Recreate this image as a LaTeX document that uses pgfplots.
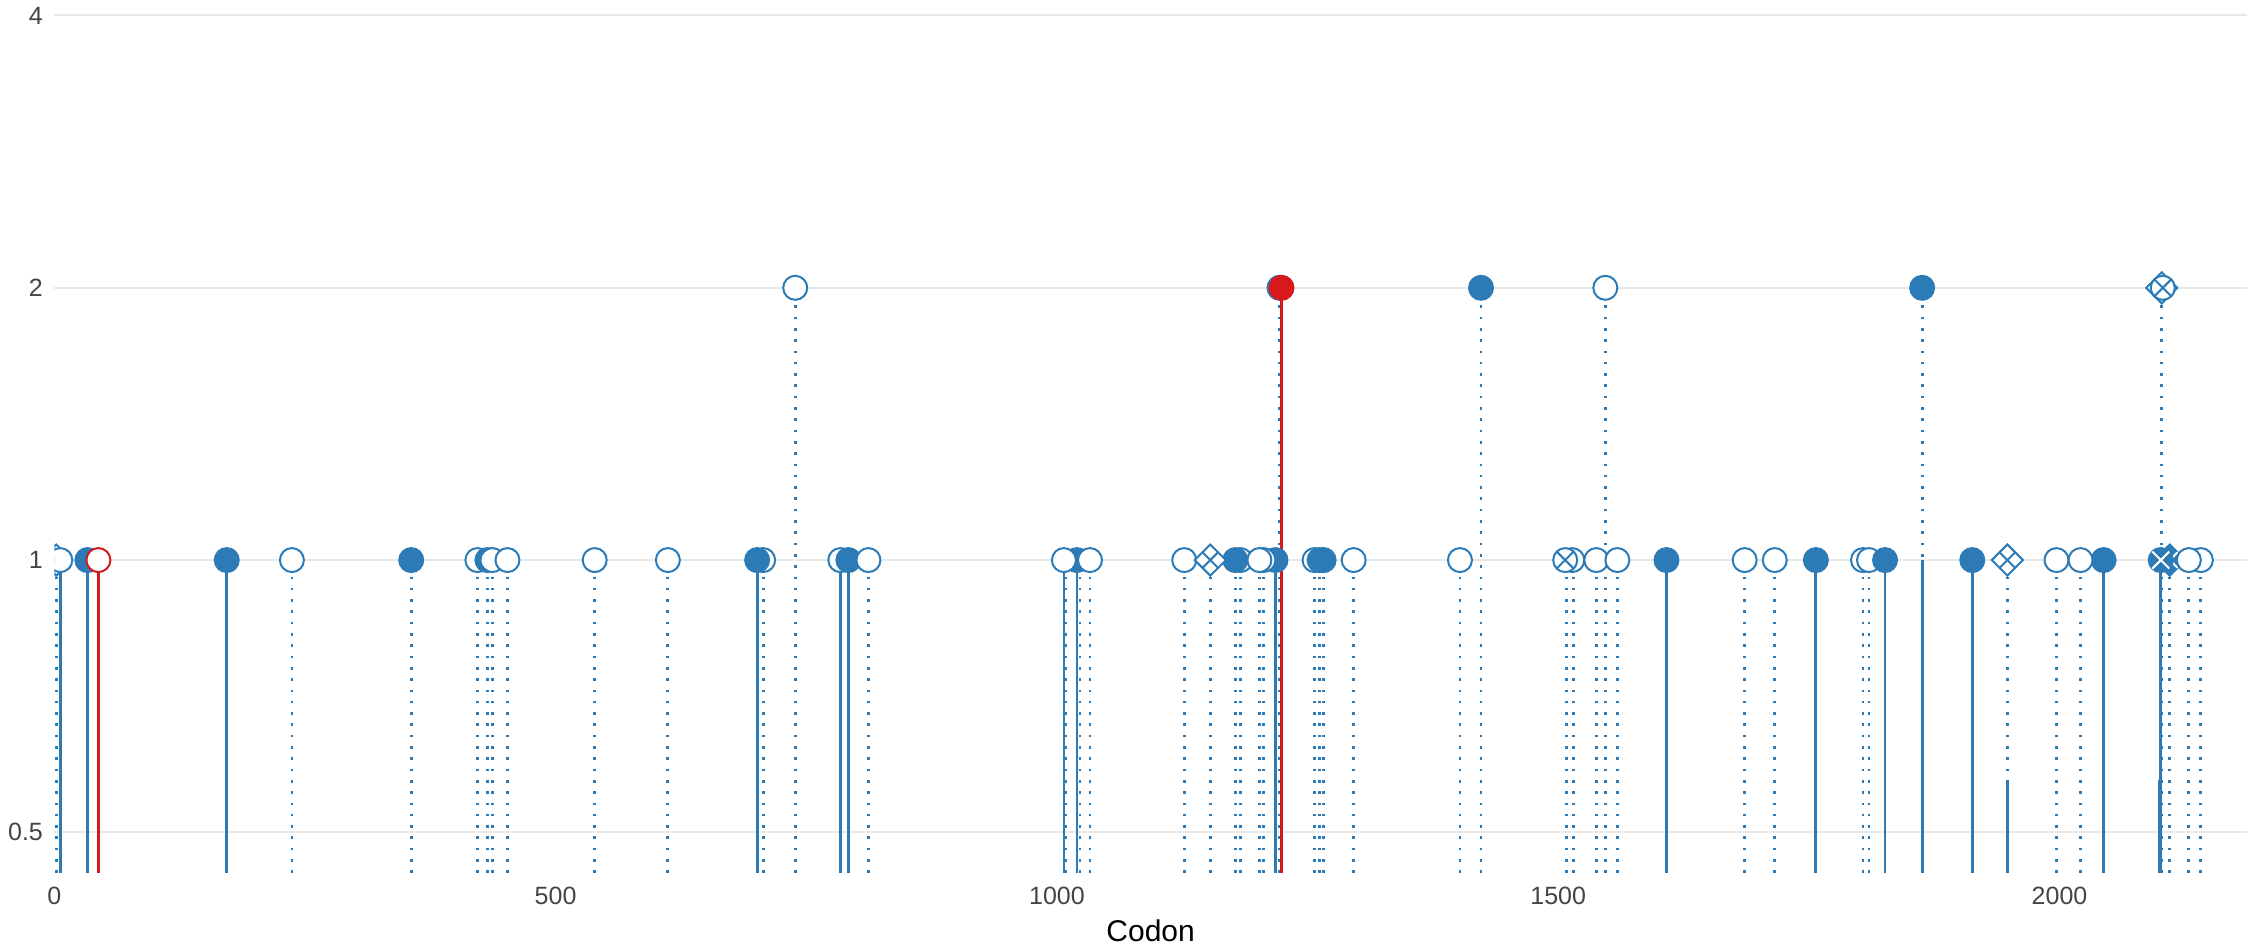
\documentclass[border=0pt]{standalone}
\usepackage{pgfplots}
\pgfplotsset{compat=1.18}
\usepackage{fontspec}
\setmainfont{Liberation Sans}
\definecolor{cblue}{HTML}{2C7BB6}
\definecolor{cred}{HTML}{D7191C}
\definecolor{gridc}{HTML}{E8E8E8}
\definecolor{tickc}{HTML}{444444}
\pgfdeclareplotmark{dx}{%
  \pgfpathmoveto{\pgfqpoint{\pgfplotmarksize}{0pt}}%
  \pgfpathlineto{\pgfqpoint{0pt}{\pgfplotmarksize}}%
  \pgfpathlineto{\pgfqpoint{-\pgfplotmarksize}{0pt}}%
  \pgfpathlineto{\pgfqpoint{0pt}{-\pgfplotmarksize}}%
  \pgfpathclose
  \pgfusepathqfillstroke
  \pgfpathmoveto{\pgfqpoint{-.5\pgfplotmarksize}{.5\pgfplotmarksize}}%
  \pgfpathlineto{\pgfqpoint{.5\pgfplotmarksize}{-.5\pgfplotmarksize}}%
  \pgfpathmoveto{\pgfqpoint{.5\pgfplotmarksize}{.5\pgfplotmarksize}}%
  \pgfpathlineto{\pgfqpoint{-.5\pgfplotmarksize}{-.5\pgfplotmarksize}}%
  \pgfusepathqstroke
}
\pgfdeclareplotmark{fdx}{%
  \pgfpathmoveto{\pgfqpoint{\pgfplotmarksize}{0pt}}%
  \pgfpathlineto{\pgfqpoint{0pt}{\pgfplotmarksize}}%
  \pgfpathlineto{\pgfqpoint{-\pgfplotmarksize}{0pt}}%
  \pgfpathlineto{\pgfqpoint{0pt}{-\pgfplotmarksize}}%
  \pgfpathclose
  \pgfusepathqfillstroke
  \pgfsetstrokecolor{white}%
  \pgfpathmoveto{\pgfqpoint{-.5\pgfplotmarksize}{.5\pgfplotmarksize}}%
  \pgfpathlineto{\pgfqpoint{.5\pgfplotmarksize}{-.5\pgfplotmarksize}}%
  \pgfpathmoveto{\pgfqpoint{.5\pgfplotmarksize}{.5\pgfplotmarksize}}%
  \pgfpathlineto{\pgfqpoint{-.5\pgfplotmarksize}{-.5\pgfplotmarksize}}%
  \pgfusepathqstroke
}
\pgfdeclareplotmark{cx}{%
  \pgfpathcircle{\pgfpointorigin}{\pgfplotmarksize}%
  \pgfusepathqfillstroke
  \pgfpathmoveto{\pgfqpoint{-.7071\pgfplotmarksize}{.7071\pgfplotmarksize}}%
  \pgfpathlineto{\pgfqpoint{.7071\pgfplotmarksize}{-.7071\pgfplotmarksize}}%
  \pgfpathmoveto{\pgfqpoint{.7071\pgfplotmarksize}{.7071\pgfplotmarksize}}%
  \pgfpathlineto{\pgfqpoint{-.7071\pgfplotmarksize}{-.7071\pgfplotmarksize}}%
  \pgfusepathqstroke
}
\pgfdeclareplotmark{fcx}{%
  \pgfpathcircle{\pgfpointorigin}{\pgfplotmarksize}%
  \pgfusepathqfillstroke
  \pgfsetstrokecolor{white}%
  \pgfpathmoveto{\pgfqpoint{-.7071\pgfplotmarksize}{.7071\pgfplotmarksize}}%
  \pgfpathlineto{\pgfqpoint{.7071\pgfplotmarksize}{-.7071\pgfplotmarksize}}%
  \pgfpathmoveto{\pgfqpoint{.7071\pgfplotmarksize}{.7071\pgfplotmarksize}}%
  \pgfpathlineto{\pgfqpoint{-.7071\pgfplotmarksize}{-.7071\pgfplotmarksize}}%
  \pgfusepathqstroke
}
\pgfplotsset{
  openc/.style={only marks, mark=*, mark size=6pt, color=cblue, mark options={solid, fill=white, draw=cblue, line width=1pt}},
  fillc/.style={only marks, mark=*, mark size=6pt, color=cblue, mark options={solid, fill=cblue, draw=cblue, line width=1pt}},
}
\begin{document}
\begin{tikzpicture}
\useasboundingbox (0,0) rectangle (1123.5pt,475.5pt);
\begin{axis}[
  at={(27.15pt,39pt)}, anchor=south west,
  scale only axis, width=1096.35pt, height=436.5pt,
  xmin=0, xmax=2187, ymode=log, ymin=0.4509, ymax=4.161,
  log origin=infty,
  axis line style={draw opacity=0},
  tick style={draw opacity=0},
  ytick={0.5,1,2,4}, yticklabels={0.5,1,2,4},
  xtick={0,500,1000,1500,2000},
  xticklabels={0,500,1000,1500,2000},
  ymajorgrids, grid style={gridc, line width=1pt, draw opacity=1},
  tick label style={font=\fontsize{12.5}{15}\selectfont, text=tickc},
  xticklabel style={anchor=north, inner sep=0pt, yshift=-7pt},
  yticklabel style={anchor=east, inner sep=0pt, xshift=-5.5pt},
  xlabel={Codon},
  xlabel style={font=\fontsize{15}{18}\selectfont, text=black, yshift=-4pt},
  clip marker paths=true,
]
% solid blue stems
\addplot[ycomb, cblue, line width=1.4pt, mark=none] table[row sep=\\]{
x y\\ 6 1\\ 33 1\\ 172 1\\ 701 1\\ 784 1\\ 792 1\\ 1007 1\\ 1020 1\\ 1218 1\\ 1608 1\\ 1757 1\\ 1826 1\\ 1863 1\\ 1913 1\\ 2044 1\\ 2101 1\\ 1948 0.571\\ 2100 0.571\\
};
% dotted blue stems
\addplot[ycomb, cblue, line width=1.4pt, dash pattern=on 1.3pt off 4.35pt, mark=none] table[row sep=\\]{
x y\\ 2 1\\ 237 1\\ 356 1\\ 422 1\\ 432 1\\ 437 1\\ 452 1\\ 539 1\\ 612 1\\ 707 1\\ 739 2\\ 812 1\\ 1009 1\\ 1023 1\\ 1033 1\\ 1127 1\\ 1153 1\\ 1178 1\\ 1183 1\\ 1202 1\\ 1206 1\\ 1222 2\\ 1257 1\\ 1262 1\\ 1266 1\\ 1296 1\\ 1402 1\\ 1423 2\\ 1508 1\\ 1515 1\\ 1538 1\\ 1547 2\\ 1559 1\\ 1686 1\\ 1716 1\\ 1804 1\\ 1810 1\\ 1863 2\\ 1948 1\\ 1997 1\\ 2021 1\\ 2102 2\\ 2110 1\\ 2129 1\\ 2141 1\\
};
% red stems
\addplot[ycomb, cred, line width=1.4pt, mark=none] table[row sep=\\]{
x y\\ 44 1\\ 1224 2\\
};
% diamond-x at left
\addplot[only marks, mark=dx, mark size=7.8pt, color=cblue, mark options={solid, fill=white, draw=cblue, line width=1pt}] table[row sep=\\]{
x y\\ 2 1\\
};
% back open circles
\addplot[openc] table[row sep=\\]{
x y\\ 422 1\\ 707 1\\ 784 1\\ 1183 1\\ 1257 1\\ 1804 1\\ 1810 1\\ 2141 1\\
};
% filled circles
\addplot[fillc] table[row sep=\\]{
x y\\ 33 1\\ 172 1\\ 356 1\\ 432 1\\ 701 1\\ 792 1\\ 1020 1\\ 1178 1\\ 1218 1\\ 1262 1\\ 1266 1\\ 1608 1\\ 1757 1\\ 1826 1\\ 1913 1\\ 2044 1\\ 1222 2\\ 1423 2\\ 1863 2\\
};
% front open circles
\addplot[openc] table[row sep=\\]{
x y\\ 6 1\\ 237 1\\ 437 1\\ 452 1\\ 539 1\\ 612 1\\ 812 1\\ 1007 1\\ 1033 1\\ 1127 1\\ 1206 1\\ 1202 1\\ 1296 1\\ 1402 1\\ 1514 1\\ 1538 1\\ 1559 1\\ 1686 1\\ 1716 1\\ 1997 1\\ 2021 1\\ 739 2\\ 1547 2\\
};
% open diamond-x
\addplot[only marks, mark=dx, mark size=7.8pt, color=cblue, mark options={solid, fill=white, draw=cblue, line width=1pt}] table[row sep=\\]{
x y\\ 1153 1\\ 1948 1\\ 2102 2\\
};
% open circle-x
\addplot[only marks, mark=cx, mark size=6pt, color=cblue, mark options={solid, fill=white, draw=cblue, line width=1pt}] table[row sep=\\]{
x y\\ 1507 1\\ 2103 2\\
};
% filled diamond-x
\addplot[only marks, mark=fdx, mark size=7.8pt, color=cblue, mark options={solid, fill=cblue, draw=cblue, line width=1pt}] table[row sep=\\]{
x y\\ 2110 1\\
};
% filled circle-x
\addplot[only marks, mark=fcx, mark size=6pt, color=cblue, mark options={solid, fill=cblue, draw=cblue, line width=1pt}] table[row sep=\\]{
x y\\ 2101 1\\
};
% last open circle
\addplot[openc] table[row sep=\\]{
x y\\ 2129 1\\
};
% red markers
\addplot[only marks, mark=*, mark size=6pt, color=cred, mark options={solid, fill=white, draw=cred, line width=1pt}] table[row sep=\\]{
x y\\ 44 1\\
};
\addplot[only marks, mark=*, mark size=6pt, color=cred, mark options={solid, fill=cred, draw=cred, line width=1pt}] table[row sep=\\]{
x y\\ 1224 2\\
};
\end{axis}
\end{tikzpicture}
\end{document}
